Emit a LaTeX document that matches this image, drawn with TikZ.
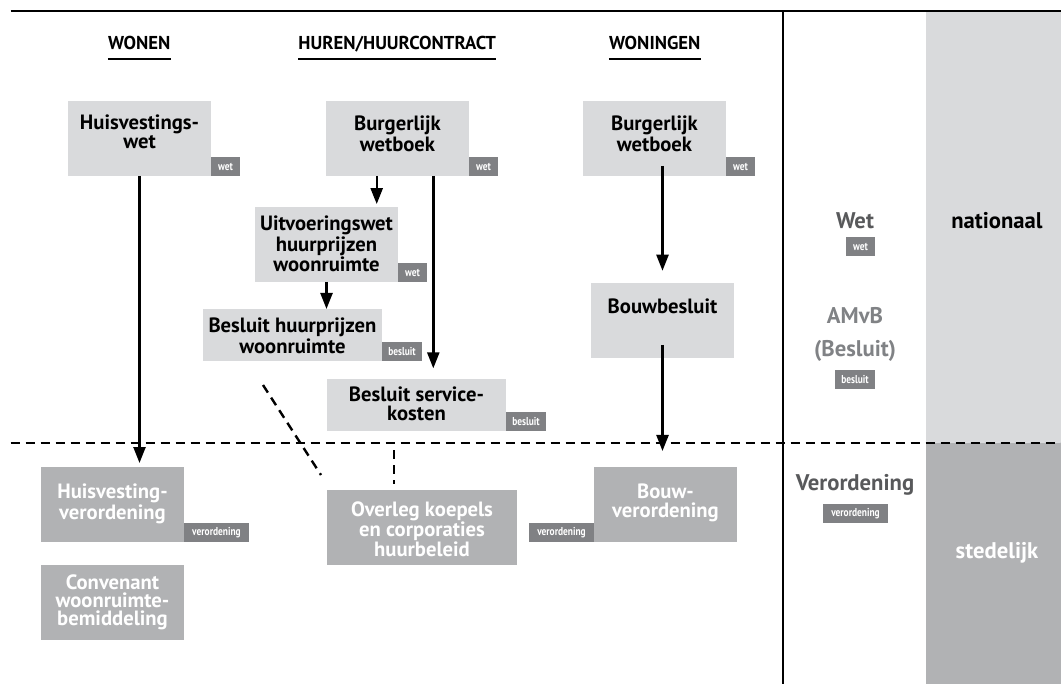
\documentclass[tikz,border=0pt]{standalone}
\usepackage{fontspec}
\setmainfont{PT Sans}
\newfontfamily\tagfont[FakeStretch=0.82]{PT Sans}
\usetikzlibrary{arrows.meta,calc}
\definecolor{boxlight}{HTML}{D9DADC}
\definecolor{boxdark}{HTML}{B1B2B4}
\definecolor{tagfill}{HTML}{808184}
\definecolor{txtdark}{HTML}{58595B}
\definecolor{txtmid}{HTML}{808285}
\begin{document}
\begin{tikzpicture}[x=0.75pt,y=-0.75pt,
  lbox/.style={rectangle, fill=boxlight, inner sep=0pt, outer sep=0pt, minimum width=107.25pt, minimum height=56.25pt},
  dbox/.style={lbox, fill=boxdark},
  btxt/.style={inner sep=0pt, align=center, anchor=north, font=\bfseries\fontsize{15.5}{13.8}\selectfont},
  wtxt/.style={btxt, text=white},
  tagbox/.style={rectangle, fill=tagfill, text=white, inner sep=0pt, outer sep=0pt, minimum height=14.25pt, font=\tagfont\bfseries\fontsize{8.6}{10}\selectfont},
  tagw/.style={tagbox, minimum width=21.75pt},
  tagb/.style={tagbox, minimum width=30pt},
  tagv/.style={tagbox, minimum width=48.75pt},
  hdr/.style={inner sep=0pt, anchor=base, font=\bfseries\fontsize{14}{16}\selectfont},
  side/.style={inner sep=0pt, anchor=base, font=\bfseries\fontsize{17}{19}\selectfont},
  arr/.style={line width=1.8pt, -{Triangle[length=12pt,width=9pt]}},
  dsh/.style={line width=1.8pt, dash pattern=on 6.75pt off 4.5pt}
]
\useasboundingbox (0,0) rectangle (1061,684);
% right band
\fill[boxlight] (926,12) rectangle (1061,443);
\fill[boxdark] (926,443) rectangle (1061,684);

% frame lines
\draw[line width=2pt] (10.5,11) -- (1061,11);
\draw[line width=2pt] (783,11) -- (783,684);

% headers
\node[hdr] (h1) at (139.3,50) {WONEN};
\node[hdr] (h2) at (397.2,50) {HUREN/HUURCONTRACT};
\node[hdr] (h3) at (654.8,50) {WONINGEN};
\foreach \h in {h1,h2,h3}
  \draw[line width=1.3pt] ($(\h.base west)+(0,9)$) -- ($(\h.base east)+(0,9)$);

% light boxes
\node[lbox] (hw) at (139.5,138.5) {};
\node[btxt] (hwt) at (139.5,115) {Huisvestings-\\wet};
\node[tagw, anchor=south west] (hwg) at (hw.south east) {wet};

\node[lbox] (bw1) at (397.5,138.5) {};
\node[btxt] (bw1t) at (397.5,116) {Burgerlijk\\wetboek};
\node[tagw, anchor=south west] (bw1g) at (bw1.south east) {wet};

\node[lbox] (bw2) at (654.5,138.5) {};
\node[btxt] (bw2t) at (654.5,116) {Burgerlijk\\wetboek};
\node[tagw, anchor=south west] (bw2g) at (bw2.south east) {wet};

\node[lbox] (uw) at (326.5,244.5) {};
\node[btxt] (uwt) at (326.5,216) {Uitvoeringswet\\huurprijzen\\woonruimte};
\node[tagw, anchor=south west] (uwg) at (uw.south east) {wet};

\node[lbox, minimum width=134.25pt, minimum height=39pt] (bh) at (292.5,335) {};
\node[btxt] (bht) at (292.5,318) {Besluit huurprijzen\\woonruimte};
\node[tagb, anchor=south west] (bhg) at (bh.south east) {besluit};

\node[lbox, minimum width=134.25pt, minimum height=39pt] (bs) at (416.5,405) {};
\node[btxt] (bst) at (416.5,387) {Besluit service-\\kosten};
\node[tagb, anchor=south west] (bsg) at (bs.south east) {besluit};

\node[lbox] (bb) at (662.5,320.5) {};
\node[btxt] (bbt) at (662.5,299) {Bouwbesluit};

% dark boxes
\node[dbox] (hv) at (112.5,504.5) {};
\node[wtxt] (hvt) at (112.5,484) {Huisvesting-\\verordening};
\node[tagv, anchor=south west] (hvg) at (hv.south east) {verordening};

\node[dbox] (cv) at (112.5,602.5) {};
\node[wtxt] (cvt) at (112.5,574) {Convenant\\woonruimte-\\bemiddeling};

\node[dbox, minimum width=142.5pt] (ov) at (422,527.5) {};
\node[wtxt] (ovt) at (422,501) {Overleg koepels\\en corporaties\\huurbeleid};

\node[dbox] (bv) at (665.5,504.5) {};
\node[wtxt] (bvt) at (665.5,484) {Bouw-\\verordening};
\node[tagv, anchor=south east] (bvg) at (bv.south west) {verordening};

% right column
\node[side, text=txtdark] (lw) at (855,229) {Wet};
\node[tagw] (lwg) at (860.5,246.5) {wet};
\node[side, text=txtmid] (la) at (855,323.3) {AMvB};
\node[side, text=txtmid] (lb) at (855,356.7) {(Besluit)};
\node[tagb] (lbg) at (855,379.5) {besluit};
\node[side, text=txtdark] (lv) at (855,490) {Verordening};
\node[tagv] (lvg) at (855.5,513.5) {verordening};
\node[side] (nat) at (997,229) {nationaal};
\node[side, text=white] (ste) at (997,558.3) {stedelijk};

% arrows
\draw[arr, shorten >=3pt] (hw.south) -- (hw.south |- hv.north);
\coordinate (a1) at ($(bw1.south west)+(50.7,0)$);
\draw[arr, shorten >=2.2pt] (a1) -- (a1 |- uw.north);
\coordinate (a2) at ($(bw1.south west)+(107.3,0)$);
\draw[arr, shorten >=8pt] (a2) -- (a2 |- bs.north);
\draw[arr] (uw.south) -- (uw.south |- bh.north);
\coordinate (a3) at ($(bb.north |- bw2.south)+(0,-10)$);
\draw[arr, shorten >=9.2pt] (a3) -- (bb.north);
\coordinate (a4) at ($(bb.south)+(0,-13)$);
\draw[arr, shorten >=12pt] (a4) -- (a4 |- bv.north);

% dashed
\draw[dsh] (10.5,443) -- (1061,443);
\coordinate (d1) at (263,385);
\coordinate (d2) at (321,475);
\draw[dsh] (d1) -- (d2);
\coordinate (d3) at (394,450);
\draw[dsh, shorten >=4.5pt] (d3) -- (d3 |- ov.north);
\end{tikzpicture}
\end{document}
